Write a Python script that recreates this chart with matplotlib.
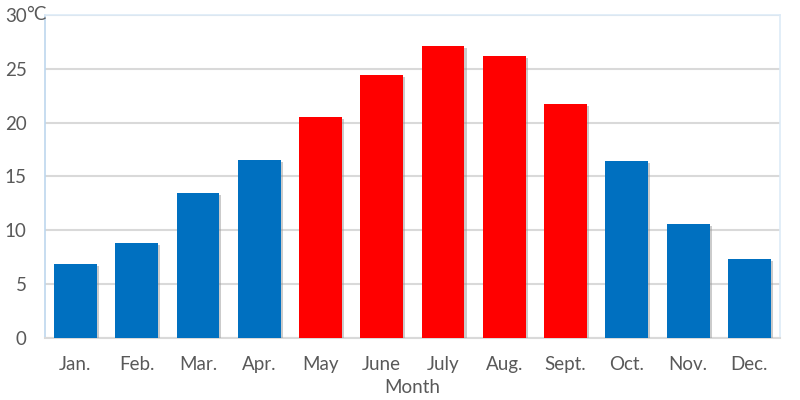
import matplotlib.pyplot as plt
import matplotlib.patheffects as pe
import matplotlib.transforms as mtransforms

months = ['Jan.', 'Feb.', 'Mar.', 'Apr.', 'May', 'June', 'July', 'Aug.', 'Sept.', 'Oct.', 'Nov.', 'Dec.']
temps = [6.9, 8.8, 13.5, 16.5, 20.5, 24.4, 27.1, 26.2, 21.7, 16.4, 10.6, 7.3]
colors = ['#0070C0'] * 4 + ['#FF0000'] * 5 + ['#0070C0'] * 3
yticks = [0, 5, 10, 15, 20, 25, 30]
unit = '°C'

plt.rcParams['font.family'] = ['Lato', 'DejaVu Sans']

fig = plt.figure(figsize=(8, 4), dpi=100)
ax = fig.add_axes([0.056, 0.155, 0.919, 0.808])

bars = ax.bar(range(len(months)), temps, width=0.7, color=colors, zorder=3)
for b in bars:
    b.set_path_effects([pe.SimplePatchShadow(offset=(1.5, -1.5), shadow_rgbFace='#999999', alpha=0.5), pe.Normal()])

ax.set_xlim(-0.5, len(months) - 0.5)
ax.set_ylim(0, 30)
ax.set_yticks(yticks)
ax.set_xticks(range(len(months)))
ax.set_xticklabels(months)
ax.tick_params(axis='both', length=0, labelsize=13.5, colors='#595959')
ax.tick_params(axis='x', pad=13)
ax.tick_params(axis='y', pad=13)
ax.set_xlabel('Month', fontsize=13.5, color='#595959', labelpad=4)

# unit written after the top tick label
trans = mtransforms.blended_transform_factory(ax.transAxes, ax.transData)
ax.text(0, yticks[-1], unit, fontsize=13.5, color='#595959', ha='left', va='center',
        transform=trans + mtransforms.ScaledTranslation(-19 / 100, 0, fig.dpi_scale_trans))

ax.yaxis.grid(True, color='#D9D9D9', linewidth=1.5, zorder=0)
ax.set_axisbelow(True)
for side in ['left', 'right', 'top']:
    ax.spines[side].set_color('#DDEBF7')
    ax.spines[side].set_linewidth(1.2)
ax.spines['bottom'].set_color('#D9D9D9')
ax.spines['bottom'].set_linewidth(1.5)
ax.spines['left'].set_color('#BDD7EE')

fig.savefig('out.png', dpi=100)
